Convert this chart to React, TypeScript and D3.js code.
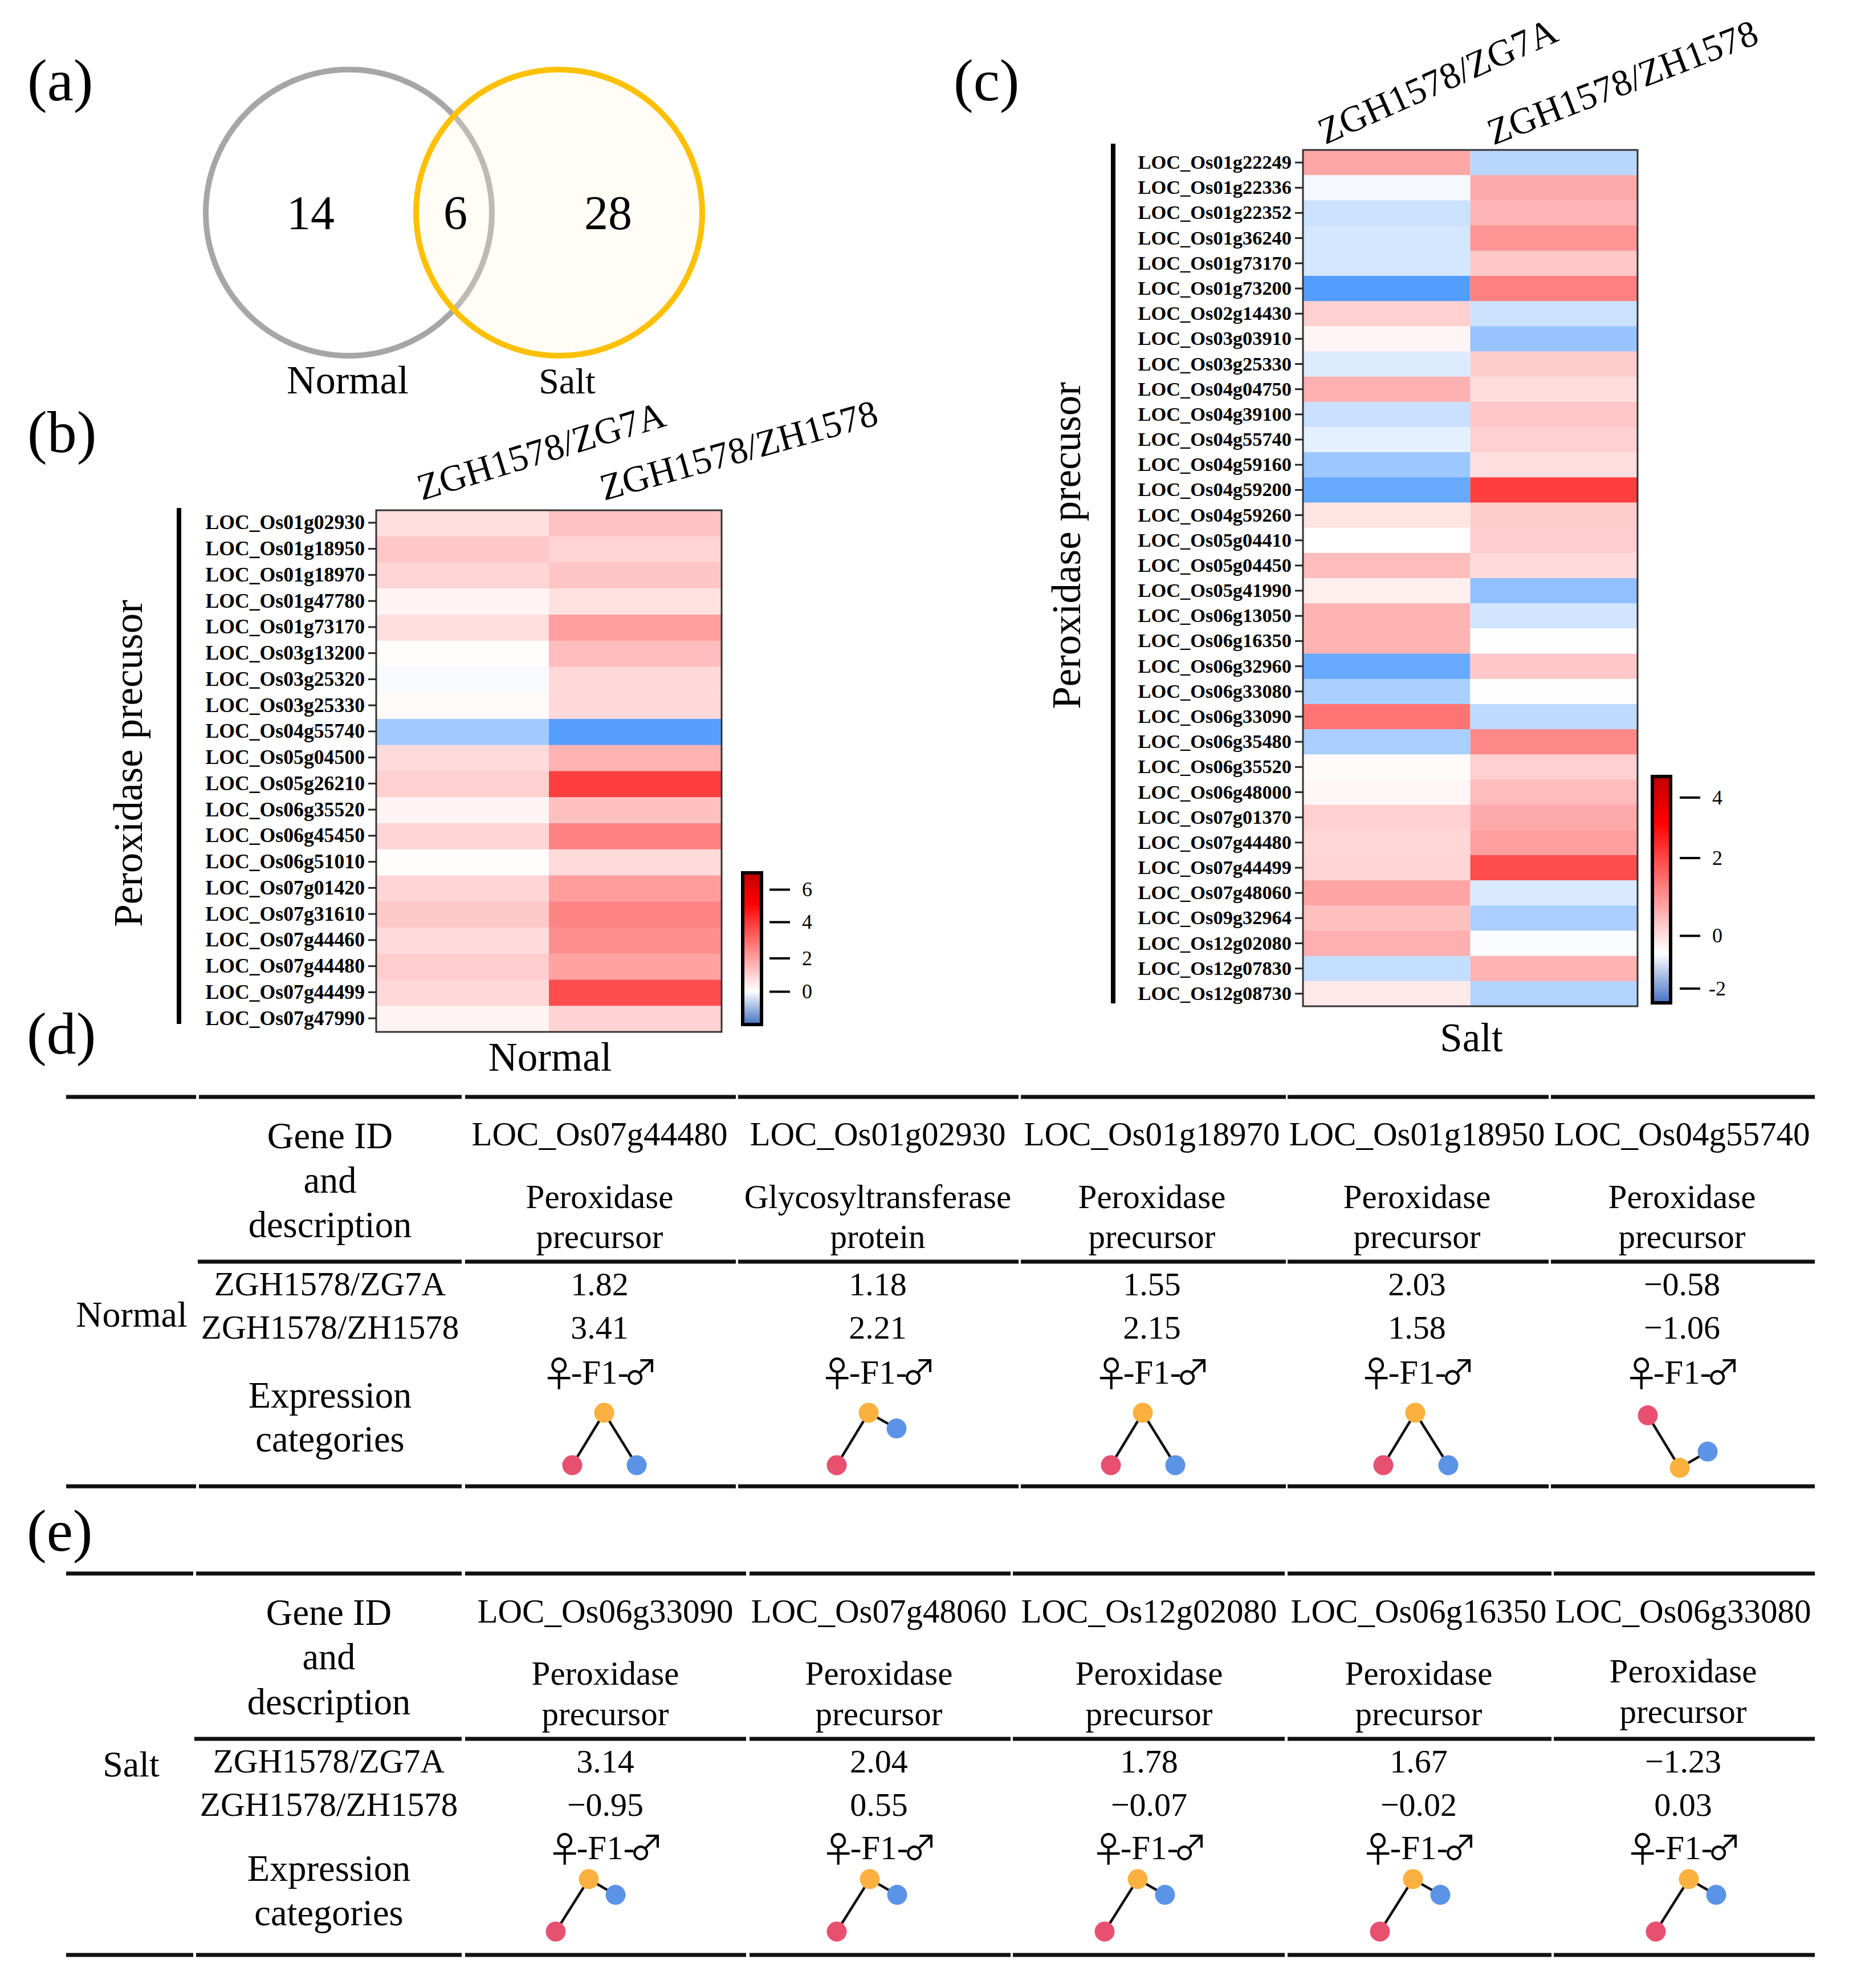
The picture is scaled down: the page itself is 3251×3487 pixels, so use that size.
import React, { useEffect, useRef } from "react";
import * as d3 from "d3";

// Panel (a) venn
const vennCounts = [14, 6, 28];
const vennLabels = ["Normal", "Salt"];

// Panel (b) heatmap, log2 fold change
const columns = ["ZGH1578/ZG7A", "ZGH1578/ZH1578"];
const normalGenes = [
  "LOC_Os01g02930", "LOC_Os01g18950", "LOC_Os01g18970", "LOC_Os01g47780", "LOC_Os01g73170",
  "LOC_Os03g13200", "LOC_Os03g25320", "LOC_Os03g25330", "LOC_Os04g55740", "LOC_Os05g04500",
  "LOC_Os05g26210", "LOC_Os06g35520", "LOC_Os06g45450", "LOC_Os06g51010", "LOC_Os07g01420",
  "LOC_Os07g31610", "LOC_Os07g44460", "LOC_Os07g44480", "LOC_Os07g44499", "LOC_Os07g47990",
];
const normalZG7A = [1.18, 2.03, 1.55, 0.4, 1.2, 0.1, -0.05, 0.15, -0.58, 1.3, 1.7, 0.4, 1.5, 0.1, 1.55, 2.0, 1.3, 1.82, 1.4, 0.45];
const normalZH1578 = [2.21, 1.58, 2.15, 1.1, 3.5, 2.4, 1.4, 1.4, -1.06, 2.8, 7.0, 2.3, 4.6, 1.35, 3.6, 4.5, 4.1, 3.41, 6.5, 1.6];

// Panel (c) heatmap
const saltGenes = [
  "LOC_Os01g22249", "LOC_Os01g22336", "LOC_Os01g22352", "LOC_Os01g36240", "LOC_Os01g73170",
  "LOC_Os01g73200", "LOC_Os02g14430", "LOC_Os03g03910", "LOC_Os03g25330", "LOC_Os04g04750",
  "LOC_Os04g39100", "LOC_Os04g55740", "LOC_Os04g59160", "LOC_Os04g59200", "LOC_Os04g59260",
  "LOC_Os05g04410", "LOC_Os05g04450", "LOC_Os05g41990", "LOC_Os06g13050", "LOC_Os06g16350",
  "LOC_Os06g32960", "LOC_Os06g33080", "LOC_Os06g33090", "LOC_Os06g35480", "LOC_Os06g35520",
  "LOC_Os06g48000", "LOC_Os07g01370", "LOC_Os07g44480", "LOC_Os07g44499", "LOC_Os07g48060",
  "LOC_Os09g32964", "LOC_Os12g02080", "LOC_Os12g07830", "LOC_Os12g08730",
];
const saltZG7A = [2.0, -0.15, -0.75, -0.62, -0.62, -2.5, 1.05, 0.23, -0.5, 1.77, -0.78, -0.38, -1.43, -2.2, 0.6, 0.0, 1.5, 0.38, 1.67, 1.67, -2.2, -1.23, 3.14, -1.25, 0.1, 0.2, 1.05, 0.9, 0.95, 2.04, 1.4, 1.78, -0.85, 0.5];
const saltZH1578 = [-1.0, 1.9, 1.65, 2.4, 1.25, 2.85, -0.75, -1.5, 1.15, 0.75, 1.25, 1.05, 0.72, 4.3, 1.15, 1.12, 0.8, -1.6, -0.67, -0.02, 1.25, 0.03, -0.95, 2.65, 1.05, 1.5, 1.9, 2.15, 4.0, -0.55, -1.25, -0.07, 1.7, -1.1];

const normalBarTicks = [0, 2, 4, 6];
const saltBarTicks = [-2, 0, 2, 4];

// Panel (d) table
const tableDGenes = ["LOC_Os07g44480", "LOC_Os01g02930", "LOC_Os01g18970", "LOC_Os01g18950", "LOC_Os04g55740"];
const tableDDesc = [
  ["Peroxidase", "precursor"],
  ["Glycosyltransferase", "protein"],
  ["Peroxidase", "precursor"],
  ["Peroxidase", "precursor"],
  ["Peroxidase", "precursor"],
];
const tableDZG7A = ["1.82", "1.18", "1.55", "2.03", "−0.58"];
const tableDZH1578 = ["3.41", "2.21", "2.15", "1.58", "−1.06"];
// expression level of female, F1, male
const tableDLevels = [
  [0, 1, 0],
  [0, 1, 0.7],
  [0, 1, 0],
  [0, 1, 0],
  [0.95, -0.05, 0.26],
];

// Panel (e) table
const tableEGenes = ["LOC_Os06g33090", "LOC_Os07g48060", "LOC_Os12g02080", "LOC_Os06g16350", "LOC_Os06g33080"];
const tableEDesc = [
  ["Peroxidase", "precursor"],
  ["Peroxidase", "precursor"],
  ["Peroxidase", "precursor"],
  ["Peroxidase", "precursor"],
  ["Peroxidase", "precursor"],
];
const tableEZG7A = ["3.14", "2.04", "1.78", "1.67", "−1.23"];
const tableEZH1578 = ["−0.95", "0.55", "−0.07", "−0.02", "0.03"];
const tableELevels = [
  [0, 1, 0.7],
  [0, 1, 0.7],
  [0, 1, 0.7],
  [0, 1, 0.7],
  [0, 1, 0.7],
];

const parents = ["female", "F1", "male"];
const dotColors = ["#e8506f", "#fbb040", "#5b93e6"];
const SERIF = "'Liberation Serif', 'Times New Roman', serif";

type Sel = d3.Selection<any, any, any, any>;

const addText = (g: Sel, s: string, x: number, y: number, size: number, anchor = "middle") =>
  g
    .append("text")
    .attr("x", x)
    .attr("y", y)
    .attr("font-size", size)
    .attr("text-anchor", anchor)
    .attr("fill", "#000")
    .text(s);

const drawHeatmap = (svg: Sel, o: any) => {
  const x = d3.scaleBand<string>().domain(columns).range([o.left, o.right]);
  const y = d3.scaleBand<string>().domain(o.genes).range([o.top, o.bottom]);
  const color = d3
    .scaleLinear<string>()
    .domain([o.negFull, 0, o.posFull])
    .range(["#006eff", "#ffffff", "#ff0000"])
    .clamp(true);

  const g = svg.append("g");
  [o.col1, o.col2].forEach((values: number[], c: number) => {
    g.append("g")
      .selectAll("rect")
      .data(values)
      .enter()
      .append("rect")
      .attr("x", x(columns[c])!)
      .attr("y", (_, i) => y(o.genes[i])!)
      .attr("width", x.bandwidth())
      .attr("height", y.bandwidth() + 0.5)
      .attr("fill", (d) => color(d));
  });
  g.append("rect")
    .attr("x", o.left)
    .attr("y", o.top)
    .attr("width", o.right - o.left)
    .attr("height", o.bottom - o.top)
    .attr("fill", "none")
    .attr("stroke", "#333")
    .attr("stroke-width", 3);

  // gene labels
  const axis = g
    .append("g")
    .attr("transform", `translate(${o.left},${o.axisShift})`)
    .call(d3.axisLeft(y).tickSize(o.tickLen).tickPadding(6));
  axis.select(".domain").remove();
  axis.selectAll("line").attr("stroke", "#222").attr("stroke-width", 3);
  axis
    .selectAll("text")
    .attr("font-family", SERIF)
    .attr("font-size", o.labelSize)
    .attr("font-weight", 700)
    .attr("fill", "#000");

  // column headers
  columns.forEach((c, i) => {
    const h = o.headers[i];
    g.append("text")
      .attr("transform", `translate(${h[0]},${h[1]}) rotate(${-h[2]})`)
      .attr("font-size", 65.5)
      .attr("fill", "#000")
      .text(c);
  });

  // bracket line and side title
  g.append("line")
    .attr("x1", o.lineX)
    .attr("x2", o.lineX)
    .attr("y1", o.lineTop)
    .attr("y2", o.lineBottom)
    .attr("stroke", "#000")
    .attr("stroke-width", 8);
  g.append("text")
    .attr("transform", `translate(${o.titleX},${o.titleY}) rotate(-90)`)
    .attr("text-anchor", "middle")
    .attr("font-size", 71)
    .attr("fill", "#000")
    .text("Peroxidase precusor");
  addText(g, o.name, (o.left + o.right) / 2 + 2, o.nameY, 71);

  // colour bar
  const gradId = `bar-${o.name}`;
  const grad = g
    .append("linearGradient")
    .attr("id", gradId)
    .attr("x1", 0)
    .attr("x2", 0)
    .attr("y1", 0)
    .attr("y2", 1);
  [
    [0, "#c00000"],
    [0.2, "#ff0000"],
    [0.78, "#ffffff"],
    [1, "#4472c4"],
  ].forEach(([off, c]) => grad.append("stop").attr("offset", off as number).attr("stop-color", c as string));
  g.append("rect")
    .attr("x", o.barLeft)
    .attr("y", o.barTop)
    .attr("width", o.barRight - o.barLeft)
    .attr("height", o.barBottom - o.barTop)
    .attr("fill", `url(#${gradId})`)
    .attr("stroke", "#000")
    .attr("stroke-width", 6);
  const barScale = d3.scaleLinear().domain(o.barTicks).range(o.barTickY);
  const barAxis = g
    .append("g")
    .attr("transform", `translate(${o.barTickX},0)`)
    .call(d3.axisRight(barScale).tickValues(o.barTicks).tickSize(36));
  barAxis.select(".domain").remove();
  barAxis.selectAll("line").attr("stroke", "#000").attr("stroke-width", 4);
  barAxis
    .selectAll("text")
    .attr("x", 66)
    .attr("text-anchor", "middle")
    .attr("font-family", SERIF)
    .attr("font-size", 36)
    .attr("fill", "#000")
    .text((d: any) => (d < 0 ? `-${Math.abs(d)}` : `${d}`));
};

const drawTable = (svg: Sel, o: any) => {
  const g = svg.append("g");
  const rule = (y: number, segs: number[][]) =>
    g
      .append("g")
      .selectAll("line")
      .data(segs)
      .enter()
      .append("line")
      .attr("x1", (d) => d[0])
      .attr("x2", (d) => d[1])
      .attr("y1", y)
      .attr("y2", y)
      .attr("stroke", "#111")
      .attr("stroke-width", 7);
  rule(o.topRule, o.segs);
  rule(o.midRule, [[o.midStart, o.segs[1][1]], ...o.segs.slice(2)]);
  rule(o.bottomRule, o.segs);

  // row headers
  addText(g, o.name, o.nameX, o.nameY, 64);
  ["Gene ID", "and", "description"].forEach((s, i) => addText(g, s, o.headX, o.headY[i], 64.5));
  addText(g, columns[0], o.headX, o.rowY[0], 59);
  addText(g, columns[1], o.headX, o.rowY[1], 59);
  ["Expression", "categories"].forEach((s, i) => addText(g, s, o.headX, o.exprY[i], 64.5));

  const lvl = d3.scaleLinear().domain([0, 1]).range(o.levelY);
  o.genes.forEach((gene: string, i: number) => {
    const cx = o.cx[i];
    addText(g, gene, cx, o.geneY, 59);
    addText(g, o.desc[i][0], cx, o.descY[i][0], 59);
    addText(g, o.desc[i][1], cx, o.descY[i][1], 59);
    addText(g, o.zg7a[i], cx, o.rowY[0], 58);
    addText(g, o.zh1578[i], cx, o.rowY[1], 58);

    // parent symbols come from the CJK font, its glyphs are the thin tall ones
    const sym = g
      .append("text")
      .attr("x", cx)
      .attr("y", o.symY)
      .attr("text-anchor", "middle")
      .attr("font-size", 59)
      .attr("fill", "#000");
    sym.append("tspan").attr("font-family", "'Noto Sans CJK JP'").attr("font-size", 62).attr("dy", 6).text("♀");
    sym.append("tspan").attr("dx", -10).attr("dy", -6).text("-F1-");
    sym.append("tspan").attr("font-family", "'Noto Sans CJK JP'").attr("font-size", 60).attr("dx", -9).attr("dy", 2).text("♂");

    // small female / F1 / male expression pattern
    const xs = d3
      .scaleOrdinal<string, number>()
      .domain(parents)
      .range([o.dotX[i] - o.stepL, o.dotX[i], o.dotX[i] + o.stepR[i]]);
    const pts: [number, number][] = parents.map((p, k) => [xs(p), lvl(o.levels[i][k])]);
    g.append("path")
      .attr("d", d3.line()(pts)!)
      .attr("fill", "none")
      .attr("stroke", "#111")
      .attr("stroke-width", 4.5);
    g.append("g")
      .selectAll("circle")
      .data(pts)
      .enter()
      .append("circle")
      .attr("cx", (d) => d[0])
      .attr("cy", (d) => d[1])
      .attr("r", 17.5)
      .attr("fill", (_, k) => dotColors[k]);
  });
};

const App = () => {
  const ref = useRef<SVGSVGElement | null>(null);

  useEffect(() => {
    const svg = d3.select(ref.current);
    svg.selectAll("*").remove();
    svg.append("rect").attr("width", 3251).attr("height", 3487).attr("fill", "#fff");

    // panel letters
    const letters: [string, number, number][] = [
      ["(a)", 48, 176],
      ["(b)", 48, 793],
      ["(c)", 1673, 176],
      ["(d)", 47, 1848],
      ["(e)", 47, 2720],
    ];
    letters.forEach(([s, x, y]) => addText(svg, s, x, y, 104, "start"));

    // venn
    svg
      .append("circle")
      .attr("cx", 612)
      .attr("cy", 373)
      .attr("r", 251)
      .attr("fill", "none")
      .attr("stroke", "#a6a6a6")
      .attr("stroke-width", 10);
    svg
      .append("circle")
      .attr("cx", 981)
      .attr("cy", 373)
      .attr("r", 251)
      .attr("fill", "#fff8dc")
      .attr("fill-opacity", 0.25)
      .attr("stroke", "#ffc000")
      .attr("stroke-width", 10);
    [545, 799, 1067].forEach((x, i) => addText(svg, String(vennCounts[i]), x, 402, 84));
    addText(svg, vennLabels[0], 610, 690, 70);
    addText(svg, vennLabels[1], 995, 690, 64);

    drawHeatmap(svg, {
      name: "Normal",
      genes: normalGenes,
      col1: normalZG7A,
      col2: normalZH1578,
      negFull: -1.6,
      posFull: 9.3,
      left: 660,
      right: 1266,
      top: 895,
      bottom: 1810,
      axisShift: -1,
      tickLen: 14,
      labelSize: 35.7,
      headers: [
        [740, 878, 17],
        [1060, 878, 15.5],
      ],
      lineX: 314,
      lineTop: 891,
      lineBottom: 1796,
      titleX: 249,
      titleY: 1339,
      nameY: 1878,
      barLeft: 1303,
      barRight: 1336,
      barTop: 1531,
      barBottom: 1797,
      barTicks: normalBarTicks,
      barTickY: [1739, 1680.5, 1617, 1560],
      barTickX: 1350,
    });

    drawHeatmap(svg, {
      name: "Salt",
      genes: saltGenes,
      col1: saltZG7A,
      col2: saltZH1578,
      negFull: -3.7,
      posFull: 5.7,
      left: 2286,
      right: 2873,
      top: 263,
      bottom: 1765,
      axisShift: 0,
      tickLen: 14,
      labelSize: 34.4,
      headers: [
        [2325, 254, 24],
        [2620, 255, 21],
      ],
      lineX: 1953,
      lineTop: 252,
      lineBottom: 1760,
      titleX: 1895,
      titleY: 957,
      nameY: 1844,
      barLeft: 2899,
      barRight: 2931,
      barTop: 1362,
      barBottom: 1759,
      barTicks: saltBarTicks,
      barTickY: [1733.6, 1641, 1504.5, 1398.5],
      barTickX: 2947,
    });

    drawTable(svg, {
      name: "Normal",
      nameX: 231,
      nameY: 2327,
      genes: tableDGenes,
      desc: tableDDesc,
      zg7a: tableDZG7A,
      zh1578: tableDZH1578,
      levels: tableDLevels,
      topRule: 1924,
      midRule: 2213,
      bottomRule: 2607,
      midStart: 347,
      segs: [
        [116, 344],
        [349, 810],
        [816, 1291],
        [1295, 1787],
        [1791, 2256],
        [2259, 2717],
        [2721, 3184],
      ],
      headX: 579,
      headY: [2014, 2092, 2170],
      rowY: [2272, 2348],
      exprY: [2469, 2546],
      cx: [1052, 1540, 2021, 2486, 2951],
      geneY: 2009,
      descY: Array(5).fill([2119, 2189]),
      symY: 2427,
      dotX: [1060, 1524, 2005, 2483, 2947],
      stepL: 56,
      stepR: [57, 49, 57, 58, 49],
      levelY: [2570, 2478],
    });

    drawTable(svg, {
      name: "Salt",
      nameX: 230,
      nameY: 3116,
      genes: tableEGenes,
      desc: tableEDesc,
      zg7a: tableEZG7A,
      zh1578: tableEZH1578,
      levels: tableELevels,
      topRule: 2760,
      midRule: 3050,
      bottomRule: 3429,
      midStart: 341,
      segs: [
        [116, 339],
        [344, 810],
        [816, 1309],
        [1315, 1773],
        [1777, 2254],
        [2259, 2722],
        [2726, 3184],
      ],
      headX: 577,
      headY: [2850, 2928, 3007],
      rowY: [3109, 3185],
      exprY: [3299, 3377],
      cx: [1062, 1542, 2016, 2489, 2953],
      geneY: 2846,
      descY: [
        [2955, 3026],
        [2955, 3026],
        [2955, 3026],
        [2955, 3026],
        [2951, 3022],
      ],
      symY: 3261,
      dotX: [1033, 1526, 1996, 2479, 2963],
      stepL: 58,
      stepR: [47, 48, 48, 48, 48],
      levelY: [3388, 3296],
    });
  }, []);

  return (
    <svg
      ref={ref}
      width={3251}
      height={3487}
      viewBox="0 0 3251 3487"
      fontFamily={SERIF}
      style={{ position: "absolute", left: 0, top: 0, display: "block" }}
    />
  );
};

export default App;
